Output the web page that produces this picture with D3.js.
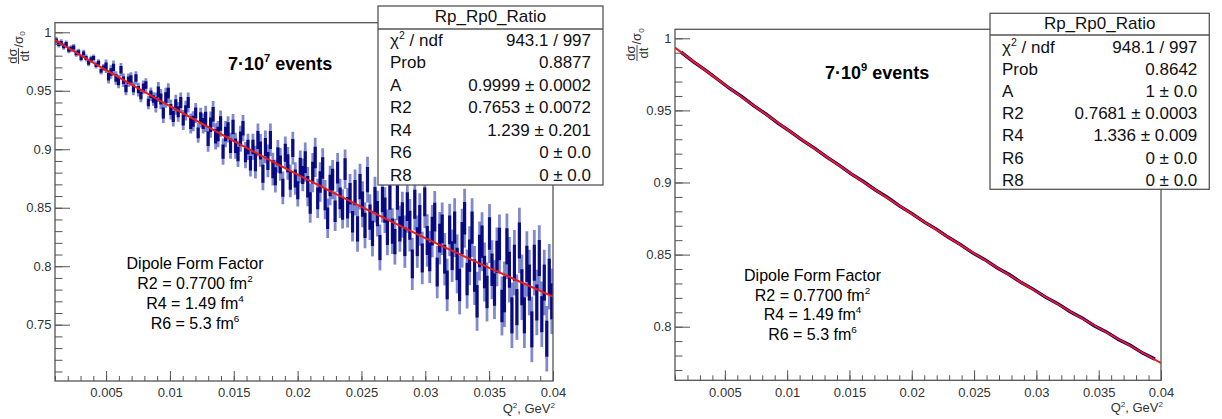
<!DOCTYPE html>
<html><head><meta charset="utf-8">
<script src="https://cdn.jsdelivr.net/npm/d3@7"></script>
<style>
html,body{margin:0;padding:0;background:#fff;}
svg{display:block;font-family:"Liberation Sans",Arial,Helvetica,sans-serif;}
</style></head><body>
<svg id="chart" width="1222" height="419"></svg>
<script>
// ---------------- DATA ----------------
const qRange = [0.001, 0.04];
const xTicks = [0.005, 0.01, 0.015, 0.02, 0.025, 0.03, 0.035, 0.04];
const xTickLabels = ["0.005", "0.01", "0.015", "0.02", "0.025", "0.03", "0.035", "0.04"];
const leftYTicks = [0.75, 0.8, 0.85, 0.9, 0.95, 1];
const leftYTickLabels = ["0.75", "0.8", "0.85", "0.9", "0.95", "1"];
const rightYTicks = [0.8, 0.85, 0.9, 0.95, 1];
const rightYTickLabels = ["0.8", "0.85", "0.9", "0.95", "1"];

// 7e7 events histogram (200 bins)
const leftValues = [
0.993,0.990,0.991,0.988,0.990,0.985,0.986,0.987,0.982,0.983,0.978,0.982,0.978,0.974,0.977,0.978,0.972,0.974,0.967,0.970,
0.971,0.962,0.966,0.970,0.961,0.958,0.968,0.959,0.952,0.959,0.960,0.952,0.961,0.951,0.946,0.953,0.955,0.940,0.947,0.943,
0.940,0.949,0.943,0.931,0.944,0.948,0.934,0.928,0.938,0.932,0.940,0.925,0.933,0.940,0.922,0.924,0.931,0.914,0.927,0.922,
0.926,0.909,0.921,0.930,0.911,0.913,0.922,0.898,0.913,0.917,0.903,0.919,0.903,0.896,0.909,0.918,0.895,0.902,0.888,0.902,
0.889,0.908,0.899,0.879,0.902,0.890,0.908,0.883,0.877,0.894,0.887,0.867,0.897,0.888,0.873,0.901,0.875,0.865,0.885,0.878,
0.889,0.868,0.854,0.880,0.893,0.858,0.872,0.884,0.857,0.841,0.869,0.874,0.847,0.880,0.858,0.849,0.883,0.850,0.862,0.838,
0.863,0.832,0.868,0.853,0.835,0.874,0.842,0.828,0.857,0.845,0.816,0.857,0.848,0.829,0.859,0.830,0.821,0.859,0.832,0.844,
0.821,0.851,0.835,0.802,0.853,0.821,0.840,0.807,0.855,0.822,0.808,0.830,0.842,0.795,0.824,0.832,0.806,0.784,0.831,0.809,
0.833,0.802,0.784,0.824,0.841,0.789,0.809,0.833,0.792,0.770,0.813,0.821,0.795,0.778,0.828,0.797,0.780,0.808,0.819,0.766,
0.776,0.817,0.797,0.758,0.803,0.765,0.822,0.782,0.758,0.802,0.786,0.746,0.803,0.769,0.807,0.759,0.786,0.738,0.791,0.770];
const leftErrors = [0.0030, 0.0058, 0.0085, 0.0112, 0.0140, 0.0168, 0.0196, 0.0224, 0.0252, 0.0280];

// 7e9 events histogram (40 bins)
const rightValues = [
0.9904,0.9839,0.9779,0.9716,0.9652,0.9595,0.9531,0.9474,0.9410,0.9353,
0.9292,0.9237,0.9176,0.9121,0.9060,0.9007,0.8948,0.8896,0.8836,0.8784,
0.8727,0.8677,0.8620,0.8569,0.8512,0.8465,0.8409,0.8362,0.8306,0.8259,
0.8205,0.8160,0.8106,0.8061,0.8007,0.7964,0.7911,0.7869,0.7817,0.7775];

// fitted curves read at these Q^2 points
const fitQ = [0.001, 0.005, 0.01, 0.015, 0.02, 0.025, 0.03, 0.035, 0.04];
const leftFit = [0.9934, 0.9677, 0.9368, 0.9070, 0.8783, 0.8507, 0.8241, 0.7986, 0.7741];
const rightFit = [0.9935, 0.9678, 0.9368, 0.9069, 0.8783, 0.8508, 0.8244, 0.7991, 0.7748];

const statLabels = ["χ^{2} / ndf", "Prob", "A", "R2", "R4", "R6", "R8"];
const leftStatValues = ["943.1 / 997", "0.8877", "0.9999 ± 0.0002", "0.7653 ± 0.0072", "1.239 ± 0.201", "0 ± 0.0", "0 ± 0.0"];
const rightStatValues = ["948.1 / 997", "0.8642", "1 ± 0.0", "0.7681 ± 0.0003", "1.336 ± 0.009", "0 ± 0.0", "0 ± 0.0"];
const statTitle = "Rp_Rp0_Ratio";
const leftEvents = "7·10^{7} events";
const rightEvents = "7·10^{9} events";
const modelLines = ["Dipole Form Factor", "R2 = 0.7700 fm^{2}", "R4 = 1.49 fm^{4}", "R6 = 5.3 fm^{6}"];
const xTitle = "Q^{2}, GeV^{2}";

// ---------------- HELPERS ----------------
const svg = d3.select("#chart");
const AX = "#555";

function parseRich(s) {
  const out = []; const re = /([\^_])\{([^}]*)\}/g; let last = 0, m;
  while ((m = re.exec(s))) {
    if (m.index > last) out.push({t: s.slice(last, m.index)});
    out.push({t: m[2], sup: m[1] === "^", sub: m[1] === "_"});
    last = re.lastIndex;
  }
  if (last < s.length) out.push({t: s.slice(last)});
  return out;
}
function rich(sel, s, fs) {
  const parts = parseRich(s);
  parts.forEach((p, i) => {
    const t = sel.append("tspan").text(p.t);
    const prev = parts[i - 1];
    let dy = 0;
    if (prev && prev.sup) dy += fs * 0.42;
    if (prev && prev.sub) dy -= fs * 0.22;
    if (p.sup) { t.attr("font-size", fs * 0.62); dy -= fs * 0.42; }
    if (p.sub) { t.attr("font-size", fs * 0.62); dy += fs * 0.22; }
    if (dy) t.attr("dy", dy);
  });
  return sel;
}

function drawPanel(cfg) {
  const x = d3.scaleLinear().domain(qRange).range([cfg.left, cfg.right]);
  const y = d3.scaleLinear().domain(cfg.yDomain).range([cfg.bottom, cfg.top]);
  const g = svg.append("g");
  const clipId = cfg.id + "-clip";
  svg.append("clipPath").attr("id", clipId).append("rect")
    .attr("x", cfg.left).attr("y", cfg.top)
    .attr("width", cfg.right - cfg.left).attr("height", cfg.bottom - cfg.top);
  const data = g.append("g").attr("clip-path", `url(#${clipId})`);

  cfg.drawData(data, x, y);

  // fit curve
  data.append("path")
    .datum(fitQ.map((q, i) => [q, cfg.fit[i]]))
    .attr("fill", "none").attr("stroke", "#f01818").attr("stroke-width", 2)
    .attr("d", d3.line().x(d => x(d[0])).y(d => y(d[1])).curve(d3.curveNatural));

  // axes (ticks inward)
  const styleAxis = a => {
    a.select(".domain").remove();
    a.selectAll("line").attr("stroke", AX).attr("stroke-width", 1);
    a.selectAll("text").attr("fill", "#333").attr("font-size", 13)
      .attr("font-family", "Liberation Sans, Arial, sans-serif");
  };
  g.append("g").attr("transform", `translate(0,${cfg.bottom})`)
    .call(d3.axisBottom(x).tickValues(x.ticks(40)).tickSize(-5).tickFormat("")).call(styleAxis);
  g.append("g").attr("transform", `translate(0,${cfg.bottom})`)
    .call(d3.axisBottom(x).tickValues(xTicks).tickSize(-10).tickPadding(7)
      .tickFormat((d, i) => xTickLabels[i])).call(styleAxis);
  g.append("g").attr("transform", `translate(${cfg.left},0)`)
    .call(d3.axisLeft(y).tickValues(y.ticks(30)).tickSize(-7.5).tickFormat("")).call(styleAxis);
  g.append("g").attr("transform", `translate(${cfg.left},0)`)
    .call(d3.axisLeft(y).tickValues(cfg.yTicks).tickSize(-15).tickPadding(3.5)
      .tickFormat((d, i) => cfg.yTickLabels[i])).call(styleAxis);

  // frame
  g.append("rect").attr("x", cfg.left).attr("y", cfg.top)
    .attr("width", cfg.right - cfg.left).attr("height", cfg.bottom - cfg.top)
    .attr("fill", "none").attr("stroke", AX).attr("stroke-width", 1.3);

  // x title
  rich(g.append("text").attr("x", cfg.right + 2).attr("y", cfg.bottom + 32)
    .attr("text-anchor", "end").attr("font-size", 13).attr("fill", "#333"), xTitle, 13);

  // y title: d sigma / dt / sigma_0
  const yt = g.append("g").attr("transform", `translate(${cfg.yTitle[0]},${cfg.yTitle[1]}) rotate(-90)`)
    .attr("fill", "#333").attr("font-size", 13);
  const fw = 16;
  yt.append("text").attr("x", fw / 2).attr("y", -2).attr("text-anchor", "middle").text("dσ");
  yt.append("line").attr("x1", 0).attr("x2", fw).attr("y1", 0).attr("y2", 0).attr("stroke", "#333").attr("stroke-width", 0.9);
  yt.append("text").attr("x", fw / 2).attr("y", 10.5).attr("text-anchor", "middle").text("dt");
  rich(yt.append("text").attr("x", fw + 0.5).attr("y", 4), "/σ_{0}", 13);

  // stats box
  const s = cfg.stats;
  const sb = g.append("g");
  sb.append("rect").attr("x", s.x0).attr("y", s.y0).attr("width", s.x1 - s.x0).attr("height", s.y1 - s.y0)
    .attr("fill", "#fff").attr("stroke", AX).attr("stroke-width", 1.3);
  sb.append("line").attr("x1", s.x0).attr("x2", s.x1).attr("y1", s.div).attr("y2", s.div)
    .attr("stroke", AX).attr("stroke-width", 1.3);
  const sfs = 17;
  sb.append("text").attr("x", (s.x0 + s.x1) / 2).attr("y", s.titleY + sfs * 0.35)
    .attr("text-anchor", "middle").attr("font-size", sfs).attr("fill", "#111").text(statTitle);
  statLabels.forEach((lab, i) => {
    const cy = s.row0 + i * s.dy + sfs * 0.35;
    rich(sb.append("text").attr("x", s.x0 + 12).attr("y", cy).attr("font-size", sfs).attr("fill", "#111"), lab, sfs);
    sb.append("text").attr("x", s.x1 - 12).attr("y", cy).attr("text-anchor", "end")
      .attr("font-size", sfs).attr("fill", "#111").text(cfg.statValues[i]);
  });

  // events label
  rich(g.append("text").attr("x", cfg.events[0]).attr("y", cfg.events[1])
    .attr("font-size", 18).attr("font-weight", "bold").attr("fill", "#000"), cfg.eventsText, 18);

  // model text
  modelLines.forEach((line, i) => {
    rich(g.append("text").attr("x", cfg.model[0]).attr("y", cfg.model[1] + i * cfg.model[2])
      .attr("text-anchor", "middle").attr("font-size", 16).attr("fill", "#000"), line, 16);
  });
}

// ---------------- LEFT PANEL ----------------
drawPanel({
  id: "left", left: 55, right: 553, top: 22.7, bottom: 381,
  yDomain: [0.70186, 1.00821], yTicks: leftYTicks, yTickLabels: leftYTickLabels,
  fit: leftFit, statValues: leftStatValues, eventsText: leftEvents,
  yTitle: [18.5, 64],
  stats: {x0: 378, x1: 603, y0: 6, y1: 185, div: 29, titleY: 16.5, row0: 40, dy: 22.5},
  events: [228, 70],
  model: [195, 269, 20],
  drawData: (gd, x, y) => {
    const n = leftValues.length;
    const w = (qRange[1] - qRange[0]) / n;
    const bins = leftValues.map((v, i) => ({
      q: qRange[0] + (i + 0.5) * w, v,
      e: leftErrors[Math.floor(i * leftErrors.length / n)]
    }));
    // full error bars (light where isolated)
    gd.selectAll("line.bar").data(bins).enter().append("line").attr("class", "bar")
      .attr("x1", d => x(d.q)).attr("x2", d => x(d.q))
      .attr("y1", d => y(d.v + d.e)).attr("y2", d => y(d.v - d.e))
      .attr("stroke", "#1a2aa8").attr("stroke-width", 2.8).attr("stroke-opacity", 0.55);
    // dense central part (dark navy where neighbouring bars overlap)
    gd.selectAll("line.core").data(bins).enter().append("line").attr("class", "core")
      .attr("x1", d => x(d.q)).attr("x2", d => x(d.q))
      .attr("y1", d => y(d.v + d.e * 0.55)).attr("y2", d => y(d.v - d.e * 0.55))
      .attr("stroke", "#00007c").attr("stroke-width", 3.2).attr("stroke-opacity", 0.92);
  }
});

// ---------------- RIGHT PANEL ----------------
drawPanel({
  id: "right", left: 675, right: 1161, top: 29.3, bottom: 380.3,
  yDomain: [0.76283, 1.00624], yTicks: rightYTicks, yTickLabels: rightYTickLabels,
  fit: rightFit, statValues: rightStatValues, eventsText: rightEvents,
  yTitle: [637, 61],
  stats: {x0: 990, x1: 1209.3, y0: 13.3, y1: 189.3, div: 35, titleY: 23.5, row0: 46.7, dy: 22.2},
  events: [825, 79],
  model: [812.5, 281, 19.5],
  drawData: (gd, x, y) => {
    const n = rightValues.length;
    const w = (qRange[1] - qRange[0]) / n;
    const pts = rightValues.map((v, i) => [qRange[0] + (i + 0.5) * w, v]);
    gd.append("path").datum(pts).attr("fill", "none").attr("stroke", "#000080")
      .attr("stroke-width", 3.4)
      .attr("d", d3.line().x(d => x(d[0])).y(d => y(d[1])));
  }
});
</script>
</body></html>
